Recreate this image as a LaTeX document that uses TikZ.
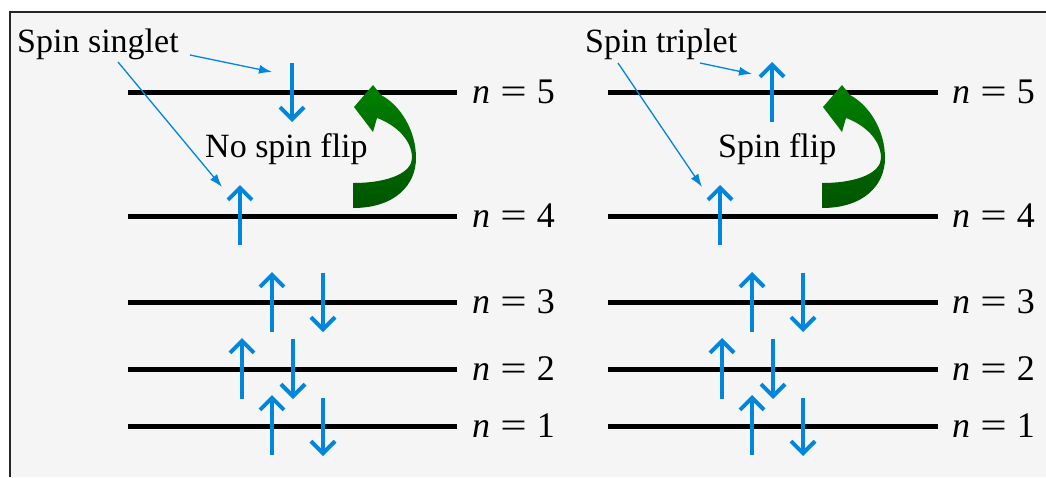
\documentclass[tikz,border=0pt]{standalone}
\usepackage{fontspec}
\setmainfont{Liberation Serif}
\newfontfamily\tnr{Liberation Serif}
\usetikzlibrary{arrows.meta}
\definecolor{spinblue}{RGB}{0,134,221}
\definecolor{bgc}{RGB}{245,245,245}
\definecolor{gtop}{RGB}{0,128,0}
\definecolor{gbot}{RGB}{0,85,0}
\newcommand{\nlabel}[1]{\textit{n}\hspace{0.28em}\scalebox{1.3}[1.0]{=}\hspace{0.28em}#1}
\begin{document}
\begin{tikzpicture}[x=1pt,y=-1pt,
  level/.style={line width=5pt, black},
  spinarrow/.style={line width=4pt, spinblue, -{Straight Barb[length=12pt,width=24pt]}},
  pointer/.style={line width=1.3pt, spinblue, -{Latex[length=13pt,width=9pt]}},
  txt/.style={font=\tnr\fontsize{34}{40}\selectfont, inner sep=0pt},
  lvltxt/.style={font=\tnr\fontsize{36}{42}\selectfont, inner sep=0pt, anchor=west},
  flipbody/.style={top color=gtop, bottom color=gbot},
]
\useasboundingbox (0,0) rectangle (1046,477);
\fill[white] (0,0) rectangle (1046,477);
\fill[bgc] (10,12) rectangle (1046,477);
\draw[line width=2pt, black!85] (1046,12) -- (10,12) -- (10,477);

% ---------- levels and labels ----------
\foreach \y/\n in {92/5,216/4,302/3,369/2,426/1}{
  \draw[level] (128,\y) -- (457,\y);
  \draw[level] (608,\y) -- (938,\y);
  \node[lvltxt] (nL\n) at (472,\y) {\nlabel{\n}};
  \node[lvltxt] (nR\n) at (952,\y) {\nlabel{\n}};
}

% ---------- texts ----------
\node[txt, anchor=base west] (singlet) at (17,52) {Spin singlet};
\node[txt, anchor=base west] (triplet) at (585,52) {Spin triplet};
\node[txt, anchor=base west] (noflip) at (205,157) {No spin flip};
\node[txt, anchor=base west] (flip) at (718,157) {Spin flip};

% ---------- spin arrows, left ----------
\draw[spinarrow] (292,63) -- (292,122);
\draw[spinarrow] (240,245) -- (240,185);
\draw[spinarrow] (272,332) -- (272,272);
\draw[spinarrow] (323,273) -- (323,332);
\draw[spinarrow] (242,399) -- (242,338);
\draw[spinarrow] (293,339) -- (293,399);
\draw[spinarrow] (272,455) -- (272,395);
\draw[spinarrow] (323,398) -- (323,456);
% ---------- spin arrows, right ----------
\draw[spinarrow] (772,122) -- (772,62);
\draw[spinarrow] (720,245) -- (720,185);
\draw[spinarrow] (752,332) -- (752,272);
\draw[spinarrow] (803,273) -- (803,332);
\draw[spinarrow] (722,399) -- (722,338);
\draw[spinarrow] (773,339) -- (773,399);
\draw[spinarrow] (752,455) -- (752,395);
\draw[spinarrow] (803,398) -- (803,456);

% ---------- pointers ----------
\coordinate (sa) at (190,55);  \coordinate (sae) at (272,72);
\coordinate (sb) at (118,62);  \coordinate (sbe) at (222,187);
\coordinate (ta) at (700,63);  \coordinate (tae) at (752,74);
\coordinate (tb) at (618,63);  \coordinate (tbe) at (702,187);
\draw[pointer] (sa) -- (sae);
\draw[pointer] (sb) -- (sbe);
\draw[pointer] (ta) -- (tae);
\draw[pointer] (tb) -- (tbe);

% ---------- green curved arrows ----------
\foreach \dx in {0,469}{
\begin{scope}[shift={(\dx,0)}]
\shade[flipbody] (373,85) -- (354,107) -- (373,132) -- (377,118)
  .. controls (396,125) and (412,140) .. (412,158)
  .. controls (412,172) and (390,183) .. (353,183)
  -- (353,208)
  .. controls (395,208) and (416,185) .. (416,158)
  .. controls (416,130) and (400,105) .. (381,95) -- cycle;
\end{scope}
}
\end{tikzpicture}
\end{document}
